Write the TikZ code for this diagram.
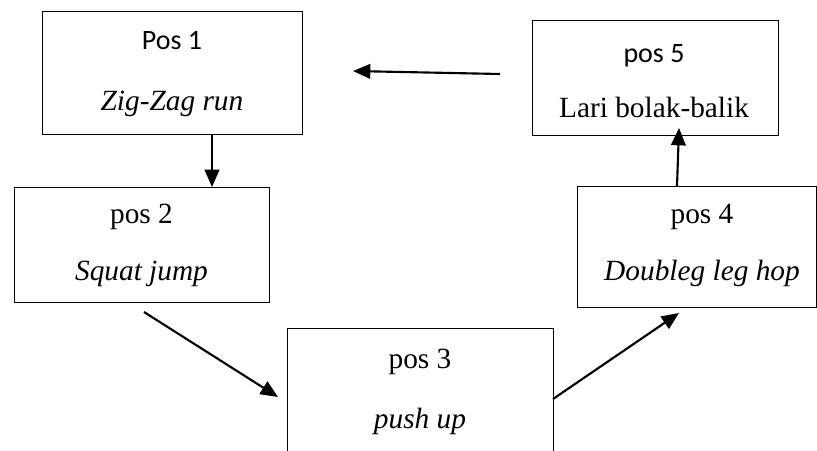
\documentclass[tikz,border=0pt]{standalone}
\usepackage{fontspec}
\setmainfont{Liberation Serif}
\newfontfamily\calfont{Carlito}
\usetikzlibrary{arrows.meta}
\tikzset{
  box/.style={draw, line width=0.8pt, anchor=north west, inner sep=0pt},
  serif/.style={anchor=base, inner sep=0pt, font=\fontsize{22}{26}\selectfont},
  sans/.style={anchor=base, inner sep=0pt, font=\calfont\fontsize{21}{25}\selectfont},
  conn/.style={line width=1.6pt, -{Triangle[length=13pt,width=11pt]}}
}
\begin{document}
\begin{tikzpicture}[x=0.75pt,y=-0.75pt]
\useasboundingbox (0,0) rectangle (817,450);
% boxes
\node[box, minimum width=195pt, minimum height=92.25pt] (b1) at (42,11) {};
\node[box, minimum width=191.25pt, minimum height=86.25pt] (b2) at (14,187) {};
\node[box, minimum width=199.5pt, minimum height=105pt] (b3) at (287,328) {};
\node[box, minimum width=179.25pt, minimum height=90.75pt] (b4) at (577,186) {};
\node[box, minimum width=184.5pt, minimum height=86.25pt] (b5) at (532,20) {};
% texts
\node[sans] (t1a) at (172,49) {Pos 1};
\node[serif] (t1b) at (172,110) {\itshape Zig-Zag run};
\node[serif] (t2a) at (141.5,223) {pos 2};
\node[serif] (t2b) at (141.5,280) {\itshape Squat jump};
\node[serif] (t3a) at (420,368) {pos 3};
\node[serif] (t3b) at (420,428) {\itshape push up};
\node[serif] (t4a) at (702,223) {pos 4};
\node[serif] (t4b) at (702,280) {\itshape Doubleg leg hop};
\node[sans] (t5a) at (654,62) {pos 5};
\node[serif] (t5b) at (654,117) {Lari bolak-balik};
% connector end points
\coordinate (a12s) at (212,134);
\coordinate (a12e) at (212,187);
\coordinate (a23s) at (144,312);
\coordinate (a23e) at (278,397);
\coordinate (a34s) at (553,399);
\coordinate (a34e) at (679,313);
\coordinate (a45s) at (677,186);
\coordinate (a45e) at (679,128);
\coordinate (a51s) at (500,74);
\coordinate (a51e) at (353,71);
\draw[conn] (a12s) -- (a12e);
\draw[conn] (a23s) -- (a23e);
\draw[conn] (a34s) -- (a34e);
\draw[conn] (a45s) -- (a45e);
\draw[conn] (a51s) -- (a51e);
\end{tikzpicture}
\end{document}
